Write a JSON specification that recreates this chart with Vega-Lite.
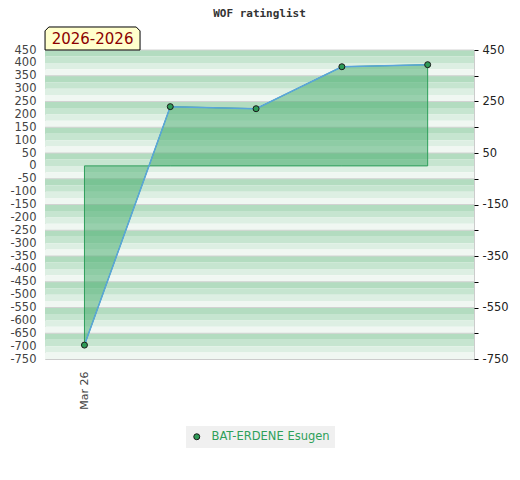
{
  "$schema": "https://vega.github.io/schema/vega-lite/v6.json",
  "autosize": {"type": "none"},
  "padding": {"left": 45, "top": 50, "right": 46, "bottom": 121},
  "width": 429,
  "height": 309,
  "background": "white",
  "title": {
    "text": "WOF ratinglist",
    "font": "DejaVu Sans Mono",
    "fontSize": 11,
    "fontWeight": "bold",
    "color": "#333333",
    "anchor": "middle",
    "offset": 6
  },
  "config": {
    "view": {"stroke": "#cccccc", "strokeWidth": 1},
    "axis": {"labelFont": "DejaVu Sans", "labelFontSize": 11.5, "grid": false}
  },
  "datasets": {
    "ratings": [
      {"n": 1, "date": "Mar 26", "rating": -696, "player": "BAT-ERDENE Esugen"},
      {"n": 2, "date": "Mar 26", "rating": 230, "player": "BAT-ERDENE Esugen"},
      {"n": 3, "date": "Mar 26", "rating": 222, "player": "BAT-ERDENE Esugen"},
      {"n": 4, "date": "Mar 26", "rating": 385, "player": "BAT-ERDENE Esugen"},
      {"n": 5, "date": "Mar 26", "rating": 393, "player": "BAT-ERDENE Esugen"}
    ],
    "bands": [
      {"y1": 450, "y2": 425, "shade": 1}, {"y1": 425, "y2": 400, "shade": 2}, {"y1": 400, "y2": 375, "shade": 3}, {"y1": 375, "y2": 350, "shade": 4},
      {"y1": 350, "y2": 325, "shade": 1}, {"y1": 325, "y2": 300, "shade": 2}, {"y1": 300, "y2": 275, "shade": 3}, {"y1": 275, "y2": 250, "shade": 4},
      {"y1": 250, "y2": 225, "shade": 1}, {"y1": 225, "y2": 200, "shade": 2}, {"y1": 200, "y2": 175, "shade": 3}, {"y1": 175, "y2": 150, "shade": 4},
      {"y1": 150, "y2": 125, "shade": 1}, {"y1": 125, "y2": 100, "shade": 2}, {"y1": 100, "y2": 75, "shade": 3}, {"y1": 75, "y2": 50, "shade": 4},
      {"y1": 50, "y2": 25, "shade": 1}, {"y1": 25, "y2": 0, "shade": 2}, {"y1": 0, "y2": -25, "shade": 3}, {"y1": -25, "y2": -50, "shade": 4},
      {"y1": -50, "y2": -75, "shade": 1}, {"y1": -75, "y2": -100, "shade": 2}, {"y1": -100, "y2": -125, "shade": 3}, {"y1": -125, "y2": -150, "shade": 4},
      {"y1": -150, "y2": -175, "shade": 1}, {"y1": -175, "y2": -200, "shade": 2}, {"y1": -200, "y2": -225, "shade": 3}, {"y1": -225, "y2": -250, "shade": 4},
      {"y1": -250, "y2": -275, "shade": 1}, {"y1": -275, "y2": -300, "shade": 2}, {"y1": -300, "y2": -325, "shade": 3}, {"y1": -325, "y2": -350, "shade": 4},
      {"y1": -350, "y2": -375, "shade": 1}, {"y1": -375, "y2": -400, "shade": 2}, {"y1": -400, "y2": -425, "shade": 3}, {"y1": -425, "y2": -450, "shade": 4},
      {"y1": -450, "y2": -475, "shade": 1}, {"y1": -475, "y2": -500, "shade": 2}, {"y1": -500, "y2": -525, "shade": 3}, {"y1": -525, "y2": -550, "shade": 4},
      {"y1": -550, "y2": -575, "shade": 1}, {"y1": -575, "y2": -600, "shade": 2}, {"y1": -600, "y2": -625, "shade": 3}, {"y1": -625, "y2": -650, "shade": 4},
      {"y1": -650, "y2": -675, "shade": 1}, {"y1": -675, "y2": -700, "shade": 2}, {"y1": -700, "y2": -725, "shade": 3}, {"y1": -725, "y2": -750, "shade": 4}
    ],
    "tag": [{"label": "2026-2026"}]
  },
  "layer": [
    {
      "data": {"name": "bands"},
      "mark": {"type": "rect"},
      "encoding": {
        "y": {
          "field": "y1",
          "type": "quantitative",
          "scale": {"domain": [-750, 450], "nice": false, "zero": false},
          "axis": {
            "orient": "left",
            "title": null,
            "values": [450, 400, 350, 300, 250, 200, 150, 100, 50, 0, -50, -100, -150, -200, -250, -300, -350, -400, -450, -500, -550, -600, -650, -700, -750],
            "labelExpr": "'' + datum.value",
            "ticks": false,
            "domain": false,
            "labelColor": "#444444",
            "labelPadding": 9,
            "labelFontSize": 11.5,
            "labelOverlap": false,
            "labelFlush": false
          }
        },
        "y2": {"field": "y2"},
        "fill": {
          "field": "shade",
          "type": "ordinal",
          "scale": {"domain": [1, 2, 3, 4], "range": ["#b3dcc0", "#c6e5d0", "#ddefe3", "#f0f7f2"]},
          "legend": null
        }
      }
    },
    {
      "data": {"name": "bands"},
      "transform": [{"filter": "datum.shade == 1"}],
      "mark": {"type": "rule", "color": "#d2d2d2", "strokeWidth": 1},
      "encoding": {
        "y": {"field": "y1", "type": "quantitative", "axis": null}
      }
    },
    {
      "data": {"name": "ratings"},
      "mark": {"type": "area", "fill": "#3fa968", "fillOpacity": 0.5, "stroke": "#2e9e5b", "strokeWidth": 1},
      "encoding": {
        "x": {
          "field": "n",
          "type": "quantitative",
          "scale": {"domain": [0.54, 5.54], "nice": false, "zero": false},
          "axis": {
            "title": null,
            "values": [1],
            "labelExpr": "'Mar 26'",
            "labelAngle": 270,
            "labelAlign": "right",
            "labelBaseline": "middle",
            "labelPadding": 12,
            "labelColor": "#444444",
            "labelFontSize": 11,
            "ticks": false,
            "domain": false
          }
        },
        "y": {"field": "rating", "type": "quantitative", "axis": null},
        "y2": {"datum": 0}
      }
    },
    {
      "data": {"name": "ratings"},
      "mark": {"type": "line", "color": "#5aa5dc", "strokeWidth": 1.5},
      "encoding": {
        "x": {"field": "n", "type": "quantitative"},
        "y": {
          "field": "rating",
          "type": "quantitative",
          "axis": {
            "orient": "right",
            "title": null,
            "values": [450, 350, 250, 150, 50, -50, -150, -250, -350, -450, -550, -650, -750],
            "labelExpr": "(450 - datum.value) % 200 == 0 ? '' + datum.value : ''",
            "tickSize": 4,
            "tickColor": "#000000",
            "labelPadding": 4,
            "labelColor": "#222222",
            "labelFontSize": 11.5,
            "labelOverlap": false,
            "labelFlush": false,
            "domain": false
          }
        }
      }
    },
    {
      "data": {"name": "ratings"},
      "mark": {"type": "point", "filled": true, "size": 36, "stroke": "#1a1a1a", "strokeWidth": 1, "opacity": 1},
      "encoding": {
        "x": {"field": "n", "type": "quantitative"},
        "y": {"field": "rating", "type": "quantitative", "axis": null},
        "color": {
          "field": "player",
          "type": "nominal",
          "scale": {"range": ["#2e9b57"]},
          "legend": {
            "title": null,
            "orient": "none",
            "legendX": 141,
            "legendY": 376,
            "fillColor": "#f0f0f0",
            "padding": 5,
            "labelColor": "#2ea05a",
            "labelFont": "DejaVu Sans",
            "labelFontSize": 11.5,
            "labelOffset": 9,
            "symbolSize": 36,
            "symbolStrokeColor": "#1a1a1a",
            "symbolStrokeWidth": 1,
            "symbolType": "circle"
          }
        }
      }
    },
    {
      "data": {"name": "tag"},
      "mark": {
        "type": "point",
        "shape": "M -1 0.242 L -1 -0.16 L -0.92 -0.242 L 0.92 -0.242 L 1 -0.16 L 1 0.242 Z",
        "size": 9025,
        "filled": true,
        "fill": "#ffffcc",
        "stroke": "#000000",
        "strokeWidth": 1,
        "opacity": 1
      },
      "encoding": {
        "x": {"datum": 1.094},
        "y": {"datum": 494.7, "axis": null}
      }
    },
    {
      "data": {"name": "tag"},
      "mark": {"type": "text", "font": "DejaVu Sans", "fontSize": 15, "color": "#8b0000", "align": "center", "baseline": "middle", "dy": 1},
      "encoding": {
        "x": {"datum": 1.094},
        "y": {"datum": 494.7, "axis": null},
        "text": {"field": "label"}
      }
    }
  ],
  "resolve": {"axis": {"y": "independent"}}
}
